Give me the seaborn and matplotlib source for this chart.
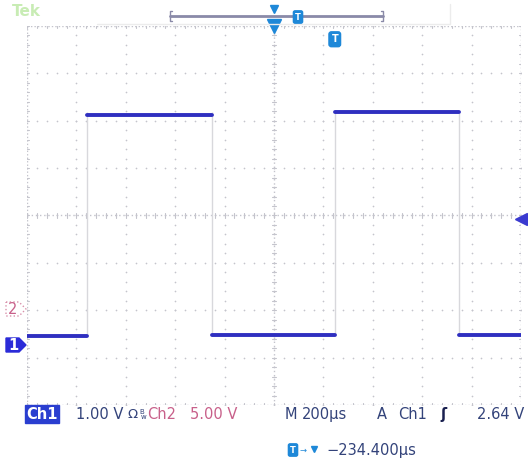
import numpy as np
import pandas as pd
import matplotlib
matplotlib.use("Agg")
import matplotlib.pyplot as plt
from matplotlib.patches import Polygon
import seaborn as sns

# scope settings
time_per_div = 200      # us
ch1_volts_per_div = 1.0
ch1_offset_div = -2.72  # ch1 ground marker below centre
trig_level = 2.64

# Ch1 square wave: plateau start / end times (us) and level (V)
seg_start = [-1000, -757, -252, 246, 750]
seg_end = [-757, -252, 246, 750, 1000]
seg_level = [0.17, 4.85, 0.19, 4.91, 0.19]

rows = []
for i, (a, b, v) in enumerate(zip(seg_start, seg_end, seg_level)):
    rows.append({"t": a, "v": v, "seg": i})
    rows.append({"t": b, "v": v, "seg": i})
trace = pd.DataFrame(rows)

sns.set_style("white")
plt.rcParams["font.family"] = ["DejaVu Sans"]

W, H = 528, 461
fig = plt.figure(figsize=(W / 100, H / 100), dpi=100)
gx0, gx1, gy0, gy1 = 27, 521, 26, 405
ax = fig.add_axes([gx0 / W, 1 - gy1 / H, (gx1 - gx0) / W, (gy1 - gy0) / H])

xlim = (-5 * time_per_div, 5 * time_per_div)
ylim = ((-4 - ch1_offset_div) * ch1_volts_per_div, (4 - ch1_offset_div) * ch1_volts_per_div)
ax.set_xlim(*xlim)
ax.set_ylim(*ylim)
for s in ax.spines.values():
    s.set_visible(False)
ax.set_xticks([])
ax.set_yticks([])

# graticule
grid_c = "#c4c4cc"
xmaj = np.linspace(xlim[0], xlim[1], 11)
ymaj = np.linspace(ylim[0], ylim[1], 9)
xmin = np.linspace(xlim[0], xlim[1], 51)
ymin = np.linspace(ylim[0], ylim[1], 41)
for x in xmaj[1:-1]:
    ax.scatter(np.full_like(ymin, x), ymin, s=1.5, color=grid_c, linewidths=0, zorder=1)
for y in ymaj[1:-1]:
    ax.scatter(xmin, np.full_like(xmin, y), s=1.5, color=grid_c, linewidths=0, zorder=1)
# border (dense dots) with small ticks
for x in [xlim[0], xlim[1]]:
    ax.axvline(x, color=grid_c, lw=1, ls=(0, (1, 1.5)), zorder=1)
for y in [ylim[0], ylim[1]]:
    ax.axhline(y, color=grid_c, lw=1, ls=(0, (1, 1.5)), zorder=1)
xc = 0.5 * (xlim[0] + xlim[1])
yc = 0.5 * (ylim[0] + ylim[1])
ax.axvline(xc, color=grid_c, lw=1, ls=(0, (1, 2)), zorder=1)
ax.axhline(yc, color=grid_c, lw=1, ls=(0, (1, 2)), zorder=1)
tx = 0.005 * (xlim[1] - xlim[0])
ty = 0.006 * (ylim[1] - ylim[0])
for x in xmin:
    ax.plot([x, x], [ylim[0], ylim[0] + ty], color=grid_c, lw=0.8, zorder=1)
    ax.plot([x, x], [ylim[1], ylim[1] - ty], color=grid_c, lw=0.8, zorder=1)
    ax.plot([x, x], [yc - ty, yc + ty], color=grid_c, lw=0.8, zorder=1)
for y in ymin:
    ax.plot([xlim[0], xlim[0] + tx], [y, y], color=grid_c, lw=0.8, zorder=1)
    ax.plot([xlim[1], xlim[1] - tx], [y, y], color=grid_c, lw=0.8, zorder=1)
    ax.plot([xc - tx, xc + tx], [y, y], color=grid_c, lw=0.8, zorder=1)

# fast edges are barely drawn
edges = seg_start[1:]
ax.vlines(edges, [min(seg_level)] * len(edges), [max(seg_level)] * len(edges),
          color="#d8d8dc", lw=1, zorder=2)

sns.lineplot(data=trace, x="t", y="v", units="seg", estimator=None,
             color="#2f2fc0", lw=2.8, ax=ax, zorder=3)
ax.set_xlabel("")
ax.set_ylabel("")

# markers on the graticule
ax.plot([xc], [ylim[1]], marker="v", ms=10, color="#1e88d8", clip_on=False, zorder=5)
ax.plot([xlim[1]], [trig_level], marker="<", ms=8, color="#3a3ad0", clip_on=False, zorder=5)
ax.text(seg_start[3], ylim[1] - 0.28, "T", color="white", fontsize=7, fontweight="bold",
        ha="center", va="center", zorder=6,
        bbox=dict(boxstyle="round,pad=0.25", fc="#1e88d8", ec="#1e88d8"))


def fx(px):
    return px / W


def fy(py):
    return 1 - py / H


def pent(cy, fc, ec, ls):
    pts = [(6, cy - 7), (19, cy - 7), (26, cy), (19, cy + 7), (6, cy + 7)]
    fig.add_artist(Polygon([(fx(a), fy(b)) for a, b in pts], closed=True,
                           transform=fig.transFigure, fc=fc, ec=ec, lw=1, ls=ls))


# channel markers on the left
pent(309, "white", "#d890aa", ":")
pent(345, "#2b2bd8", "#2b2bd8", "-")
fig.text(fx(13), fy(309), "2", color="#c8608a", fontsize=10.5, ha="center", va="center")
fig.text(fx(13), fy(345), "1", color="white", fontsize=10.5, fontweight="bold", ha="center", va="center")

# top bar
fig.text(fx(12), fy(12), "Tek", color="#c8ecb4", fontsize=11, fontweight="bold", va="center")
fig.add_artist(plt.Line2D([fx(97), fx(450), fx(450)], [fy(24), fy(24), fy(4)], color="#ececec", lw=1))
fig.add_artist(plt.Line2D([fx(170), fx(383)], [fy(16), fy(16)], color="#8a8aa8", lw=2))
fig.add_artist(plt.Line2D([fx(172), fx(170), fx(170), fx(172)], [fy(11), fy(11), fy(21), fy(21)], color="#8a8aa8", lw=1))
fig.add_artist(plt.Line2D([fx(381), fx(383), fx(383), fx(381)], [fy(11), fy(11), fy(21), fy(21)], color="#8a8aa8", lw=1))
fig.add_artist(plt.Line2D([fx(274)], [fy(9)], marker="v", ms=6, color="#1e88d8"))
fig.text(fx(298), fy(17), "T", color="white", fontsize=6, fontweight="bold", ha="center", va="center",
         bbox=dict(boxstyle="round,pad=0.2", fc="#1e88d8", ec="#1e88d8"))

# readout line
txt_c = "#33437a"
pink = "#c8608a"
fs = 10.5
ry = fy(414)
fig.text(fx(26), ry, "Ch1", color="white", fontsize=fs, fontweight="bold", va="center",
         bbox=dict(boxstyle="square,pad=0.1", fc="#2a3ed0", ec="#2a3ed0"))
fig.text(fx(76), ry, "1.00 V", color=txt_c, fontsize=fs, va="center")
fig.text(fx(128), ry, "Ω", color=txt_c, fontsize=fs - 1, va="center")
fig.text(fx(139), ry + 0.004, "B", color=txt_c, fontsize=5, va="center")
fig.text(fx(141), ry - 0.006, "w", color=txt_c, fontsize=5, va="center")
fig.text(fx(147), ry, "Ch2", color=pink, fontsize=fs, va="center")
fig.text(fx(190), ry, "5.00 V", color=pink, fontsize=fs, va="center")
fig.text(fx(285), ry, "M", color=txt_c, fontsize=fs, va="center")
fig.text(fx(302), ry, "200µs", color=txt_c, fontsize=fs, va="center")
fig.text(fx(377), ry, "A", color=txt_c, fontsize=fs, va="center")
fig.text(fx(398), ry, "Ch1", color=txt_c, fontsize=fs, va="center")
fig.text(fx(440), ry, "ʃ", color="#1a2050", fontsize=fs, fontweight="bold", va="center")
fig.text(fx(524), ry, "2.64 V", color=txt_c, fontsize=fs, ha="right", va="center")

# trigger position readout
py2 = fy(450)
fig.text(fx(293), py2, "T", color="white", fontsize=6, fontweight="bold", ha="center", va="center",
         bbox=dict(boxstyle="round,pad=0.2", fc="#1e88d8", ec="#1e88d8"))
fig.text(fx(300), py2, "→", color="#1e88d8", fontsize=6, va="center")
fig.add_artist(plt.Line2D([fx(314)], [py2 + 0.002], marker="v", ms=5, color="#1e88d8"))
fig.text(fx(326), py2, "−234.400µs", color=txt_c, fontsize=fs, va="center")

fig.savefig("out.png", dpi=100)
